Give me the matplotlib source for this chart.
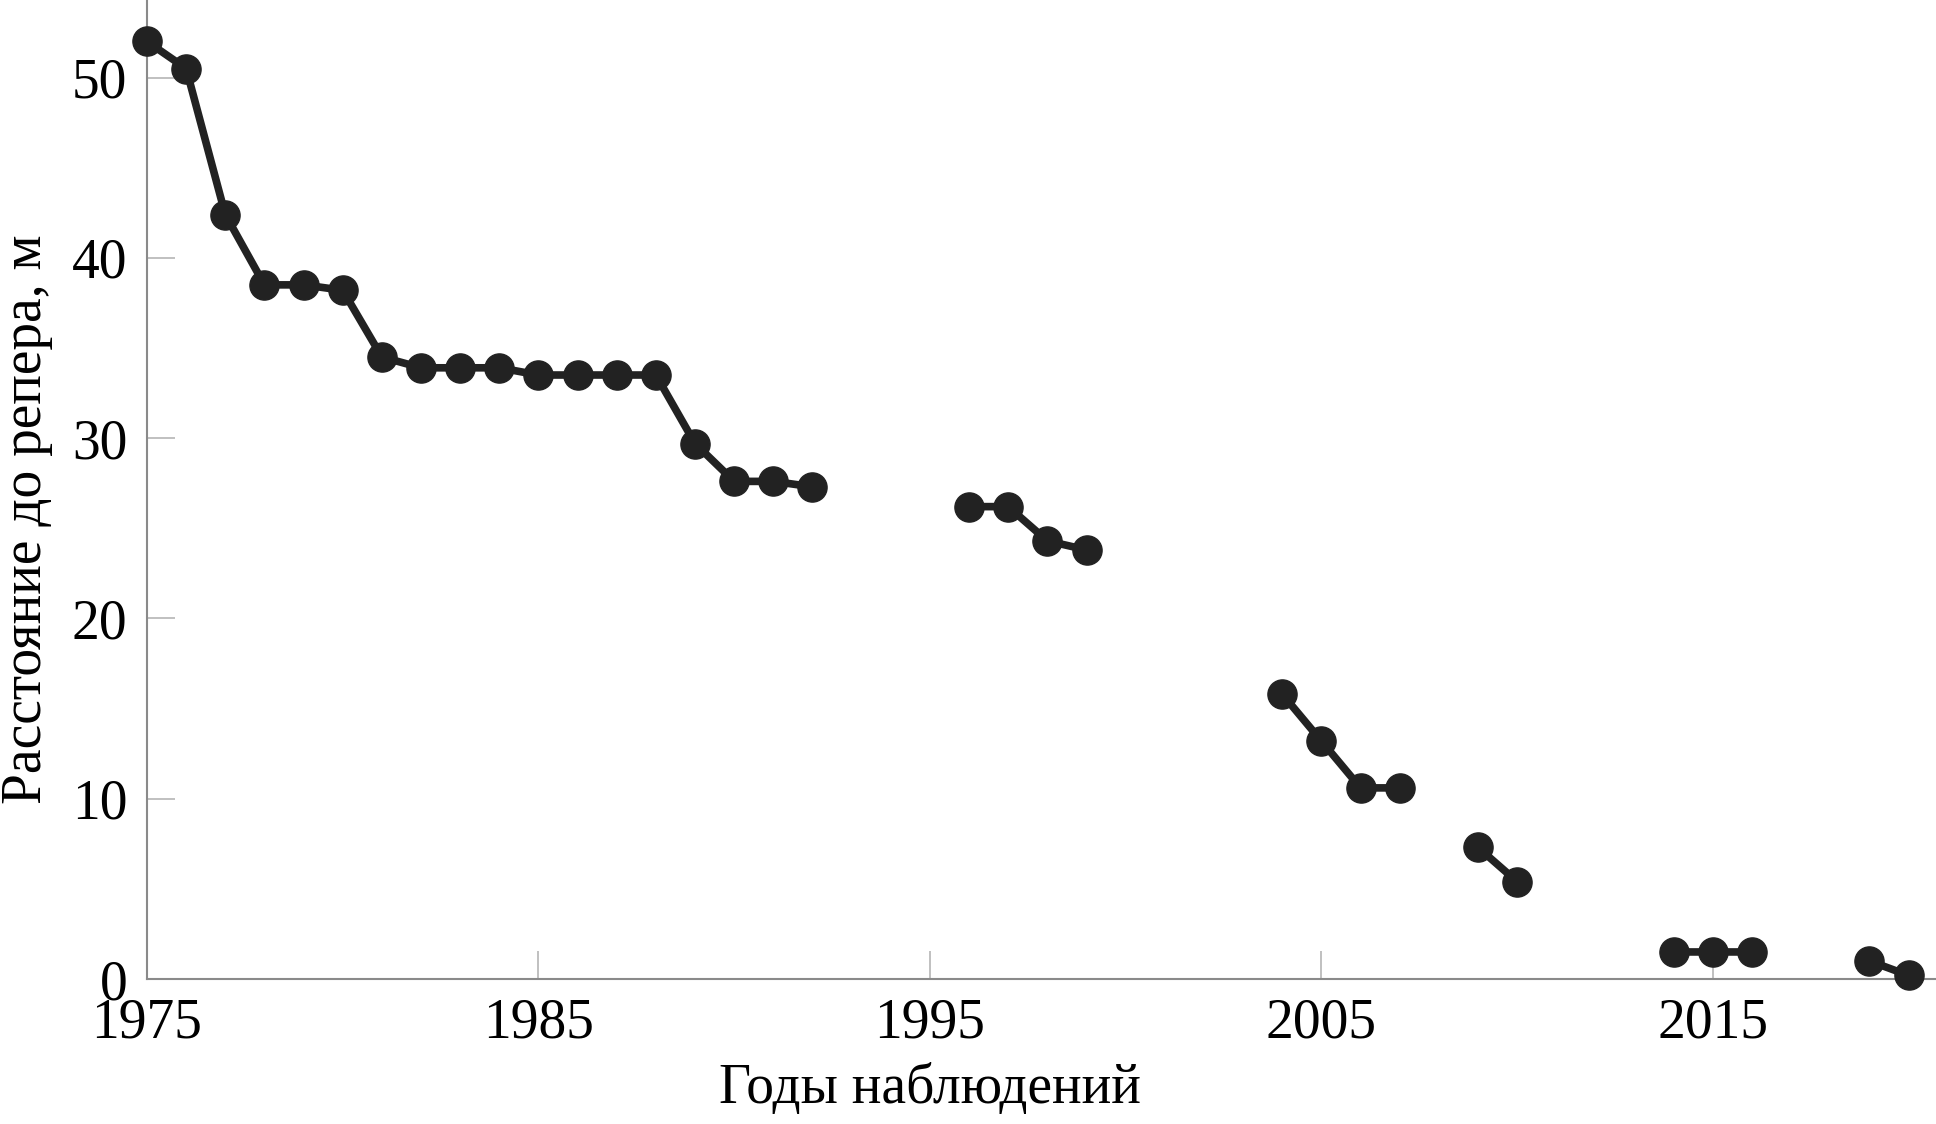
import numpy as np
import pandas as pd
import matplotlib
matplotlib.use("Agg")
import matplotlib.pyplot as plt

years = [1975, 1976, 1977, 1978, 1979, 1980, 1981, 1982, 1983, 1984, 1985, 1986,
         1987, 1988, 1989, 1990, 1991, 1992,
         1996, 1997, 1998, 1999,
         2004, 2005, 2006, 2007,
         2009, 2010,
         2014, 2015, 2016,
         2019, 2020]
distance = [52.0, 50.5, 42.4, 38.5, 38.5, 38.2, 34.5, 33.9, 33.9, 33.9, 33.5, 33.5,
            33.5, 33.5, 29.7, 27.6, 27.6, 27.3,
            26.2, 26.2, 24.3, 23.8,
            15.8, 13.2, 10.6, 10.6,
            7.3, 5.4,
            1.5, 1.5, 1.5,
            1.0, 0.2]
xticks = [1975, 1985, 1995, 2005, 2015]
yticks = [0, 10, 20, 30, 40, 50]
xlabel = "Годы наблюдений"
ylabel = "Расстояние до репера, м"

plt.rcParams['font.family'] = ['Liberation Serif', 'DejaVu Serif']

series = pd.Series(distance, index=years).reindex(range(min(years), max(years) + 1))

fig = plt.figure(figsize=(19.36, 11.24), dpi=100)
ax = fig.add_axes([147 / 1936, 145 / 1124, 1 - 147 / 1936, 979 / 1124])

ax.plot(series.index, series.values, color='#222222', lw=5.5, marker='o',
        markersize=21, markerfacecolor='#222222', markeredgecolor='#222222',
        clip_on=False, zorder=3)

ax.set_xlim(1975, 2020.7)
ax.set_ylim(0, 54.3)
ax.set_xticks(xticks)
ax.set_yticks(yticks)

for s in ['top', 'right']:
    ax.spines[s].set_visible(False)
for s in ['left', 'bottom']:
    ax.spines[s].set_color('#8a8a8a')
    ax.spines[s].set_linewidth(1.5)

ax.tick_params(axis='both', direction='in', length=20, width=1.3, color='#bbbbbb',
               labelsize=40, labelcolor='black')
ax.tick_params(axis='y', pad=14)
ax.tick_params(axis='x', pad=13)

ax.set_xlabel(xlabel, fontsize=40, va='center', ha='center')
ax.set_ylabel(ylabel, fontsize=40, va='center', ha='center')
ax.xaxis.set_label_coords(0.4375, -0.112)
ax.yaxis.set_label_coords(-0.067, 0.47)

fig.savefig('out.png', dpi=100)
